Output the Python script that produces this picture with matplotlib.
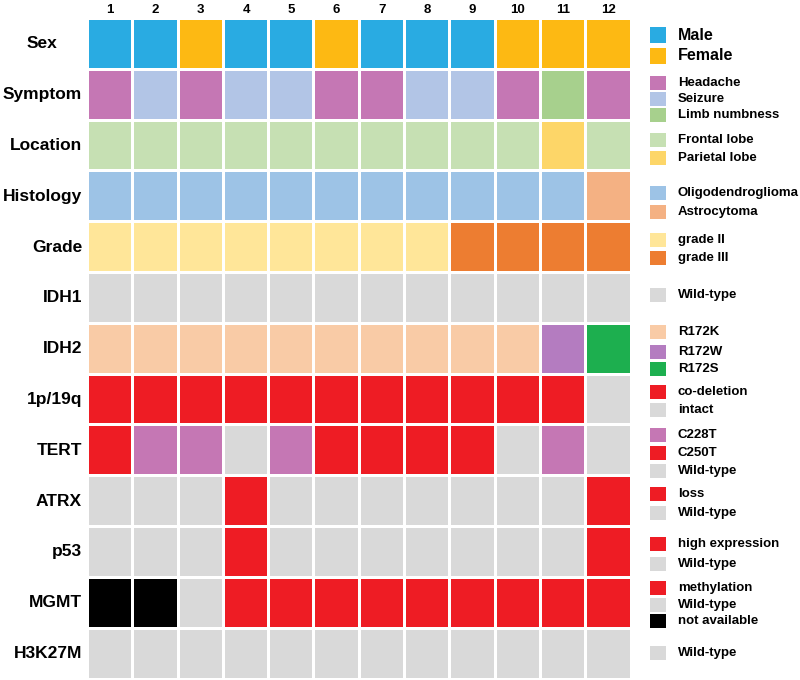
import matplotlib
matplotlib.use("Agg")
import matplotlib.pyplot as plt
from matplotlib.patches import Rectangle

plt.rcParams['font.family'] = ['Liberation Sans', 'DejaVu Sans']

# ---- datos ----
patients = [str(i) for i in range(1, 13)]
features = ["Sex", "Symptom", "Location", "Histology", "Grade", "IDH1", "IDH2",
            "1p/19q", "TERT", "ATRX", "p53", "MGMT", "H3K27M"]

sex       = ["Male", "Male", "Female", "Male", "Male", "Female", "Male", "Male", "Male", "Female", "Female", "Female"]
symptom   = ["Headache", "Seizure", "Headache", "Seizure", "Seizure", "Headache", "Headache", "Seizure", "Seizure", "Headache", "Limb numbness", "Headache"]
location  = ["Frontal lobe"] * 10 + ["Parietal lobe", "Frontal lobe"]
histology = ["Oligodendroglioma"] * 11 + ["Astrocytoma"]
grade     = ["grade II"] * 8 + ["grade III"] * 4
idh1      = ["Wild-type"] * 12
idh2      = ["R172K"] * 10 + ["R172W", "R172S"]
codel     = ["co-deletion"] * 11 + ["intact"]
tert      = ["C250T", "C228T", "C228T", "Wild-type", "C228T", "C250T", "C250T", "C250T", "C250T", "Wild-type", "C228T", "Wild-type"]
atrx      = ["Wild-type"] * 3 + ["loss"] + ["Wild-type"] * 7 + ["loss"]
p53       = ["Wild-type"] * 3 + ["high expression"] + ["Wild-type"] * 7 + ["high expression"]
mgmt      = ["not available", "not available", "Wild-type"] + ["methylation"] * 9
h3k27m    = ["Wild-type"] * 12

rows = [sex, symptom, location, histology, grade, idh1, idh2, codel, tert, atrx, p53, mgmt, h3k27m]

# colores por fila (categoria -> color)
GRAY = "#D9D9D9"
RED = "#EE1C24"
palettes = [
    {"Male": "#29ABE2", "Female": "#FDB913"},
    {"Headache": "#C577B4", "Seizure": "#B2C5E6", "Limb numbness": "#A7D08D"},
    {"Frontal lobe": "#C6E0B3", "Parietal lobe": "#FDD668"},
    {"Oligodendroglioma": "#9DC3E6", "Astrocytoma": "#F4B183"},
    {"grade II": "#FFE699", "grade III": "#ED7D31"},
    {"Wild-type": GRAY},
    {"R172K": "#F9CBA6", "R172W": "#B47CC0", "R172S": "#1DAF4F"},
    {"co-deletion": RED, "intact": GRAY},
    {"C228T": "#C577B4", "C250T": RED, "Wild-type": GRAY},
    {"loss": RED, "Wild-type": GRAY},
    {"high expression": RED, "Wild-type": GRAY},
    {"methylation": RED, "Wild-type": GRAY, "not available": "#000000"},
    {"Wild-type": GRAY},
]

# posiciones de la leyenda (pixeles, eje y hacia abajo)
legend_y = [
    [35, 56], [83, 99, 115], [140, 158], [193, 212], [240, 258], [295],
    [332, 352, 369], [392, 410], [435, 453, 471], [494, 513], [544, 564],
    [588, 605, 621], [653],
]

W, H = 800, 680
fig = plt.figure(figsize=(W / 100, H / 100), dpi=100)

# ---- grilla ----
x0, x1 = 87.5, 631.0
y0, y1 = 18.5, 679.0
ax = fig.add_axes([x0 / W, 1 - y1 / H, (x1 - x0) / W, (y1 - y0) / H])
ax.set_xlim(0, len(patients))
ax.set_ylim(len(features), 0)
ax.axis("off")

gx = 3 / ((x1 - x0) / len(patients))
gy = 3 / ((y1 - y0) / len(features))
for r, (vals, pal) in enumerate(zip(rows, palettes)):
    for c, v in enumerate(vals):
        ax.add_patch(Rectangle((c + gx / 2, r + gy / 2), 1 - gx, 1 - gy,
                               facecolor=pal[v], edgecolor="none"))

for c, p in enumerate(patients):
    ax.text(c + 0.5, -0.16, p, ha="center", va="center", fontsize=9.5,
            fontweight="bold", clip_on=False)

for r, name in enumerate(features):
    if name == "Sex":
        ax.text(-1.0, r + 0.5, name, ha="center", va="center", fontsize=12.5,
                fontweight="bold", clip_on=False)
    else:
        ax.text(-0.12, r + 0.5, name, ha="right", va="center", fontsize=12.5,
                fontweight="bold", clip_on=False)

# ---- leyenda ----
lax = fig.add_axes([0, 0, 1, 1])
lax.set_xlim(0, W)
lax.set_ylim(H, 0)
lax.axis("off")
lax.patch.set_alpha(0)

for r, (pal, ys) in enumerate(zip(palettes, legend_y)):
    big = r == 0
    sq = 16 if big else 14
    for (lab, col), y in zip(pal.items(), ys):
        lax.add_patch(Rectangle((650, y - sq / 2), 16, sq, facecolor=col, edgecolor="none"))
        lax.text(678, y, lab, ha="left", va="center",
                 fontsize=11.5 if big else 9.5, fontweight="bold")

fig.savefig("out.png", dpi=100)
